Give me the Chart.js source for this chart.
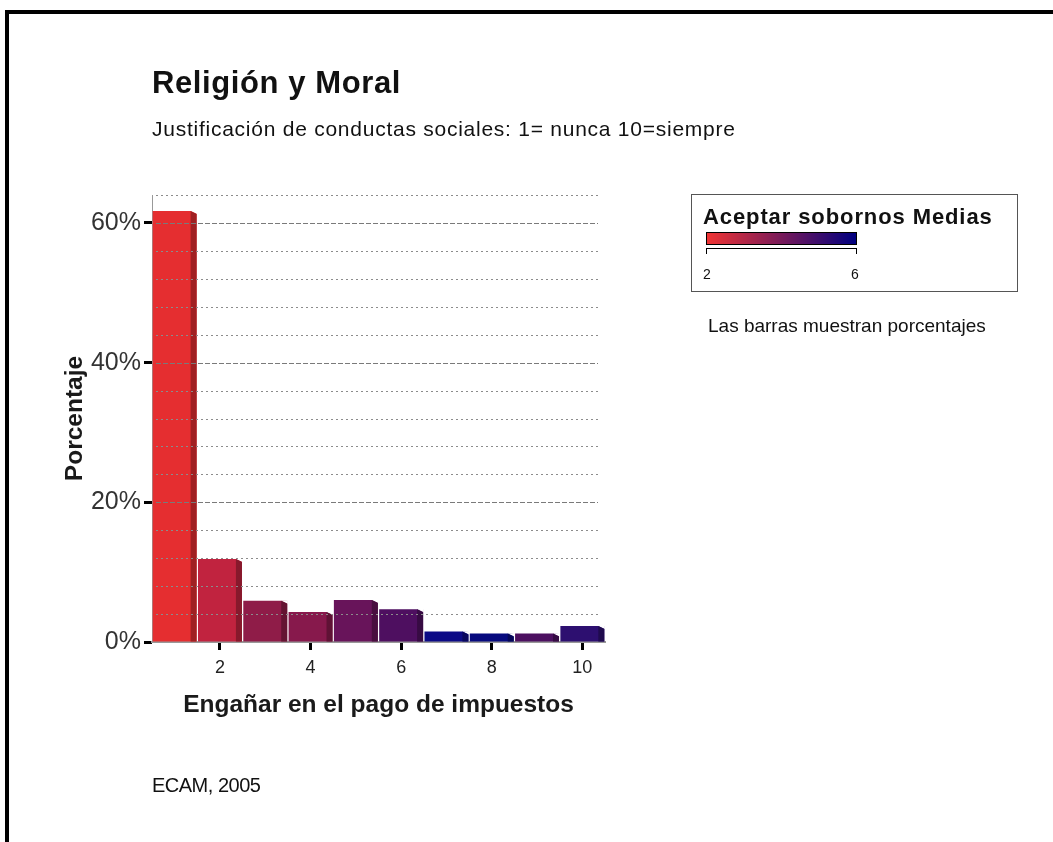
<!DOCTYPE html>
<html lang="es">
<head>
    <meta charset="UTF-8">
    <title>Religión y Moral</title>
    <script src="https://cdn.jsdelivr.net/npm/chart.js"></script>
    <style>
        body {
            margin: 0;
            width: 1053px;
            height: 842px;
            background: #ffffff;
            font-family: "Liberation Sans", Arial, sans-serif;
            color: #111;
            overflow: hidden;
            position: relative;
        }
        #marco {
            position: absolute;
            left: 5px;
            top: 10px;
            width: 1100px;
            height: 900px;
            border-top: 4px solid #000;
            border-left: 4px solid #000;
        }
        #grafico {
            position: absolute;
            left: 0;
            top: 0;
            width: 1053px;
            height: 842px;
        }
        .txt {
            position: absolute;
            line-height: 1;
            white-space: nowrap;
        }
        #titulo { left: 152px; top: 67px; font-size: 31px; font-weight: bold; letter-spacing: 0.6px; }
        #subtitulo { left: 152px; top: 118px; font-size: 21px; letter-spacing: 0.75px; }
        #fuente { left: 152px; top: 775px; font-size: 20px; letter-spacing: -0.5px; }
        #leyenda {
            position: absolute;
            left: 691px;
            top: 194px;
            width: 325px;
            height: 96px;
            border: 1px solid #555;
        }
        #leyenda-titulo { left: 11px; top: 11px; font-size: 22px; font-weight: bold; letter-spacing: 0.9px; }
        #degradado {
            position: absolute;
            left: 14px;
            top: 37px;
            width: 149px;
            height: 11px;
            border: 1px solid #000;
        }
        #llave {
            position: absolute;
            left: 14px;
            top: 53px;
            width: 149px;
            height: 5px;
            border: 1px solid #000;
            border-bottom: none;
        }
        .valor { font-size: 14px; top: 72px; }
        #nota { left: 708px; top: 316px; font-size: 19px; }
    </style>
</head>
<body>
    <div id="marco"></div>
    <div id="grafico"><canvas id="canvas"></canvas></div>

    <div class="txt" id="titulo">Religión y Moral</div>
    <div class="txt" id="subtitulo">Justificación de conductas sociales: 1= nunca 10=siempre</div>

    <div id="leyenda">
        <div class="txt" id="leyenda-titulo">Aceptar sobornos Medias</div>
        <div id="degradado"></div>
        <div id="llave"></div>
        <div class="txt valor" id="valor-min"></div>
        <div class="txt valor" id="valor-max"></div>
    </div>
    <div class="txt" id="nota">Las barras muestran porcentajes</div>

    <div class="txt" id="fuente">ECAM, 2005</div>

    <script>
        // Datos
        const categorias = ['1', '2', '3', '4', '5', '6', '7', '8', '9', '10'];
        const porcentajes = [61.7, 11.9, 5.9, 4.3, 6.0, 4.7, 1.5, 1.2, 1.2, 2.3];
        const coloresBarra = ['#e52e30', '#c1233f', '#8f1c48', '#87194c', '#68145a',
                              '#4e0f60', '#0c0a86', '#070a7e', '#4c1060', '#2d0f70'];
        const ticksY = [0, 20, 40, 60];
        const escalaMedias = [2, 6];
        const coloresEscala = ['#f03434', '#000080'];

        // Leyenda de la escala de color
        document.getElementById('degradado').style.background =
            'linear-gradient(to right, ' + coloresEscala[0] + ', ' + coloresEscala[1] + ')';
        const vMin = document.getElementById('valor-min');
        const vMax = document.getElementById('valor-max');
        vMin.textContent = escalaMedias[0];
        vMax.textContent = escalaMedias[1];
        vMin.style.left = '11px';
        vMax.style.left = '159px';

        function oscurecer(hex, f) {
            const n = parseInt(hex.slice(1), 16);
            const r = Math.round(((n >> 16) & 255) * f);
            const g = Math.round(((n >> 8) & 255) * f);
            const b = Math.round((n & 255) * f);
            return 'rgb(' + r + ',' + g + ',' + b + ')';
        }

        // Cara lateral para el efecto 3D
        const barras3d = {
            id: 'barras3d',
            afterDatasetsDraw(chart) {
                const ctx = chart.ctx;
                const meta = chart.getDatasetMeta(0);
                meta.data.forEach((bar, i) => {
                    const p = bar.getProps(['x', 'y', 'base', 'width'], true);
                    const der = p.x + p.width / 2;
                    const d = 6;
                    ctx.save();
                    ctx.fillStyle = '#ffffff';
                    ctx.beginPath();
                    ctx.moveTo(der - d, p.y);
                    ctx.lineTo(der + 0.5, p.y - 0.5);
                    ctx.lineTo(der + 0.5, p.y + 3);
                    ctx.closePath();
                    ctx.fill();
                    ctx.fillStyle = oscurecer(coloresBarra[i], 0.7);
                    ctx.beginPath();
                    ctx.moveTo(der - d, p.y);
                    ctx.lineTo(der, p.y + 3);
                    ctx.lineTo(der, p.base);
                    ctx.lineTo(der - d, p.base);
                    ctx.closePath();
                    ctx.fill();
                    ctx.restore();
                });
            }
        };

        // Líneas de cuadrícula: discontinuas cada 20%, punteadas cada 4%
        const cuadricula = {
            id: 'cuadricula',
            afterDatasetsDraw(chart) {
                const {ctx, chartArea, scales: {y}} = chart;
                ctx.save();
                y.ticks.forEach(t => {
                    if (t.value === 0) return;
                    const py = Math.round(y.getPixelForValue(t.value)) + 0.5;
                    const mayor = ticksY.includes(t.value);
                    ctx.setLineDash(mayor ? [5, 2] : [2, 3]);
                    ctx.strokeStyle = mayor ? '#7a7a7a' : '#8c8c8c';
                    ctx.lineWidth = 1;
                    ctx.beginPath();
                    ctx.moveTo(chartArea.left + 4, py);
                    ctx.lineTo(chartArea.right - 7, py);
                    ctx.stroke();
                });
                ctx.restore();
            }
        };

        new Chart(document.getElementById('canvas').getContext('2d'), {
            type: 'bar',
            data: {
                labels: categorias,
                datasets: [{
                    data: porcentajes,
                    backgroundColor: coloresBarra,
                    borderWidth: 0,
                    categoryPercentage: 1,
                    barPercentage: 0.97
                }]
            },
            options: {
                responsive: true,
                maintainAspectRatio: false,
                animation: false,
                layout: { padding: { left: 57, top: 195, right: 448, bottom: 118 } },
                plugins: {
                    legend: { display: false },
                    tooltip: { enabled: false }
                },
                scales: {
                    x: {
                        ticks: {
                            autoSkip: false,
                            maxRotation: 0,
                            callback: (v, i) => (i + 1) % 2 === 0 ? categorias[i] : '',
                            font: { family: 'Liberation Sans', size: 18 },
                            color: '#222',
                            padding: 7
                        },
                        grid: {
                            offset: false,
                            drawOnChartArea: false,
                            tickLength: 8,
                            tickWidth: 3,
                            tickColor: c => (c.index + 1) % 2 === 0 ? '#000' : 'rgba(0,0,0,0)'
                        },
                        border: { color: '#999', width: 2 },
                        title: {
                            display: true,
                            text: 'Engañar en el pago de impuestos',
                            font: { family: 'Liberation Sans', size: 24.5, weight: 'bold' },
                            color: '#1a1a1a',
                            padding: { top: 4, bottom: 4 }
                        },
                        afterFit: s => { s.height = 82; }
                    },
                    y: {
                        min: 0,
                        max: 64,
                        ticks: {
                            stepSize: 4,
                            autoSkip: false,
                            callback: v => ticksY.includes(v) ? v + '%' : '',
                            font: { family: 'Liberation Sans', size: 25 },
                            color: '#333',
                            padding: 3
                        },
                        grid: {
                            drawOnChartArea: false,
                            tickLength: 8,
                            tickWidth: 3,
                            tickColor: c => c.tick && ticksY.includes(c.tick.value) ? '#000' : 'rgba(0,0,0,0)'
                        },
                        border: { color: '#999', width: 1 },
                        title: {
                            display: true,
                            text: 'Porcentaje',
                            font: { family: 'Liberation Sans', size: 24.5, weight: 'bold' },
                            color: '#1a1a1a',
                            padding: { top: 4, bottom: 4 }
                        },
                        afterFit: s => { s.width = 95; }
                    }
                }
            },
            plugins: [barras3d, cuadricula]
        });
    </script>
</body>
</html>
